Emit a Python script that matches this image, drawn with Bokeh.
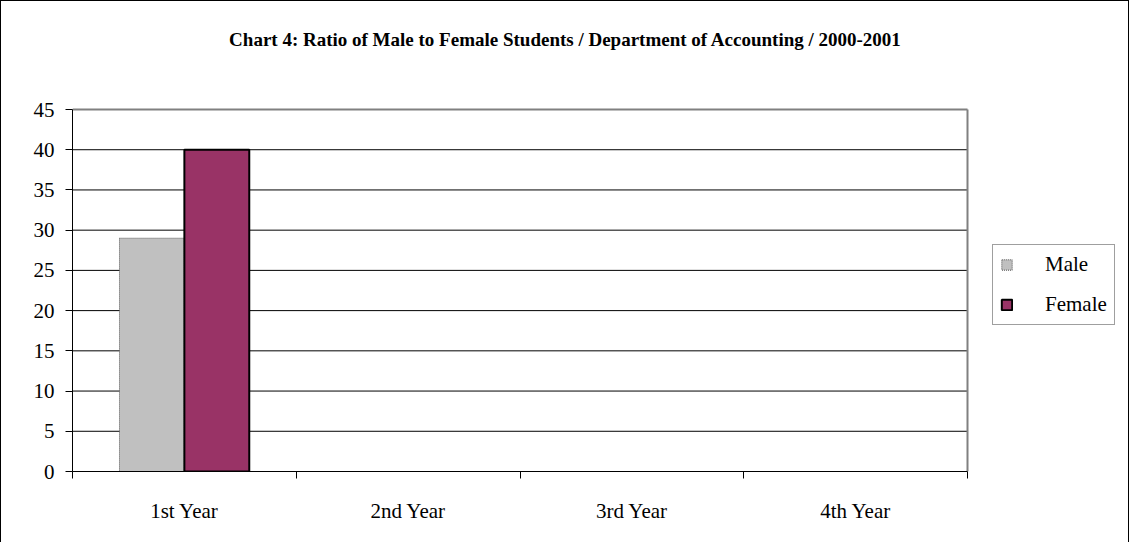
from bokeh.plotting import figure
from bokeh.models import (ColumnDataSource, Range1d, LinearAxis, FixedTicker,
                          Legend, LegendItem, Label, CDSView, BooleanFilter)
from bokeh.transform import dodge
from bokeh.embed import file_html
from bokeh.resources import INLINE

# ---- data ----
categories = ["1st Year", "2nd Year", "3rd Year", "4th Year"]
male = [29, None, None, None]
female = [40, None, None, None]
title_text = "Chart 4: Ratio of Male to Female Students / Department of Accounting / 2000-2001"
y_ticks = [0, 5, 10, 15, 20, 25, 30, 35, 40, 45]

FONT = "Liberation Serif"

n = len(categories)
y_max = y_ticks[-1]
centers = [i + 0.5 for i in range(n)]
bounds = [float(i) for i in range(n + 1)]

# canvas layout (pixels)
W, H = 1129, 542
LEFT, RIGHT, TOP, BOTTOM = 71, 8, 10, 72
DATA_W = 895          # width of the category area
DATA_H = 362          # height of the 0..45 area
frame_w = W - LEFT - RIGHT
frame_h = H - TOP - BOTTOM
x_end = n * frame_w / DATA_W
y_end = y_max * frame_h / DATA_H

src = ColumnDataSource(dict(cat=categories, xc=centers, male=male, female=female))
has_data = BooleanFilter([(m is not None) or (f is not None) for m, f in zip(male, female)])

p = figure(x_range=Range1d(0, x_end), y_range=Range1d(0, y_end),
           width=W, height=H, output_backend="svg", toolbar_location=None,
           x_axis_type=None, y_axis_type=None,
           min_border_left=LEFT, min_border_right=RIGHT, min_border_top=TOP,
           min_border_bottom=BOTTOM,
           styles={"border-left": "1px solid #000000", "border-top": "1px solid #000000",
                   "border-right": "1px solid #000000"})
p.background_fill_color = "white"
p.border_fill_color = "white"
p.outline_line_color = None
p.xgrid.visible = False
p.ygrid.visible = False

# y axis
yaxis = LinearAxis(ticker=FixedTicker(ticks=y_ticks), bounds=(0, y_max))
yaxis.axis_line_color = "black"
yaxis.axis_line_width = 1
yaxis.major_tick_out = 7
yaxis.major_tick_in = 0
yaxis.minor_tick_out = 0
yaxis.minor_tick_in = 0
yaxis.major_tick_line_color = "black"
yaxis.major_label_standoff = 11
yaxis.major_label_text_font = FONT
yaxis.major_label_text_font_size = "21px"
yaxis.major_label_text_color = "black"
p.add_layout(yaxis, "left")

# x axis: labels at category centers, ticks at category boundaries
xaxis = LinearAxis(ticker=FixedTicker(ticks=centers, minor_ticks=bounds), bounds=(0, n))
xaxis.major_label_overrides = {c: cat for c, cat in zip(centers, categories)}
xaxis.axis_line_color = "black"
xaxis.axis_line_width = 1
xaxis.major_tick_out = 0
xaxis.major_tick_in = 0
xaxis.minor_tick_out = 7
xaxis.minor_tick_in = 0
xaxis.minor_tick_line_color = "black"
xaxis.major_label_standoff = 20
xaxis.major_label_text_font = FONT
xaxis.major_label_text_font_size = "21px"
xaxis.major_label_text_color = "black"
p.add_layout(xaxis, "below")

# gridlines limited to the category area
gy = y_ticks[1:-1]
p.segment(x0=[0] * len(gy), x1=[n] * len(gy), y0=gy, y1=gy, line_color="black", line_width=1)

bw = 0.29
rm = p.vbar(x=dodge("xc", -0.145), top="male", width=bw, source=src,
            view=CDSView(filter=has_data),
            fill_color="#C0C0C0", line_color="#505050", line_width=1, line_dash="1 1")
rf = p.vbar(x=dodge("xc", 0.145), top="female", width=bw, source=src,
            view=CDSView(filter=has_data),
            fill_color="#993366", line_color="black", line_width=2)

# plot-area frame (top and right, grey)
p.segment(x0=[0, n], x1=[n, n], y0=[y_max, 0], y1=[y_max, y_max],
          line_color="#808080", line_width=2)

legend = Legend(items=[LegendItem(label="Male", renderers=[rm]),
                       LegendItem(label="Female", renderers=[rf])],
                location=(920, 146), orientation="vertical")
legend.label_text_font = FONT
legend.label_text_font_size = "21px"
legend.label_text_color = "black"
legend.label_height = 20
legend.glyph_width = 13
legend.glyph_height = 13
legend.label_standoff = 32
legend.spacing = 15
legend.padding = 7
legend.margin = 0
legend.border_line_color = "#404040"
legend.border_line_width = 1
legend.background_fill_color = "white"
legend.background_fill_alpha = 1
p.add_layout(legend, "center")

# title
tx = n * (564 - LEFT) / DATA_W
ty = (H - BOTTOM - 38) * y_max / DATA_H
title = Label(x=tx, y=ty, text=title_text, text_font=FONT, text_font_size="19px",
              text_font_style="bold", text_align="center", text_baseline="middle",
              text_color="black")
p.add_layout(title)

open("out.html", "w").write(file_html(p, INLINE))
